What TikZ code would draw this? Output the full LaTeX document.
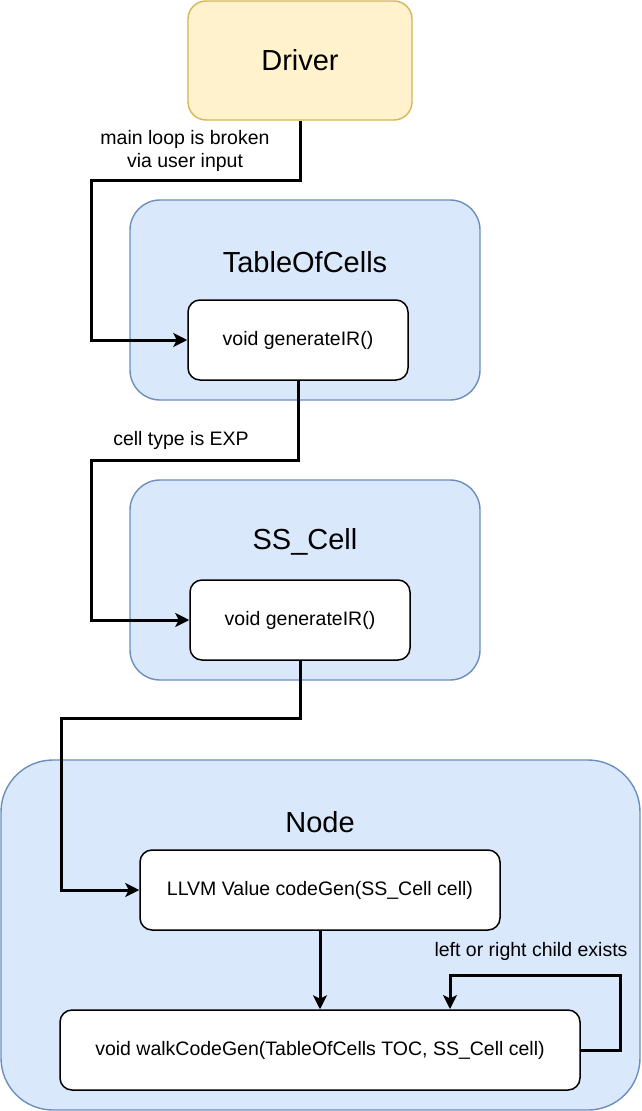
\documentclass[tikz,border=0pt]{standalone}
\usepackage{fontspec}
\setmainfont{Liberation Sans}
\usetikzlibrary{arrows.meta,calc}
\definecolor{yfill}{HTML}{FFF2CC}
\definecolor{ydraw}{HTML}{D6B656}
\definecolor{bfill}{HTML}{DAE8FC}
\definecolor{bdraw}{HTML}{6C8EBF}
\tikzset{
  drvbox/.style={draw=ydraw,fill=yfill,line width=1.4pt,rounded corners=18pt,minimum width=224pt,minimum height=119pt,inner sep=0pt},
  outerbox/.style={draw=bdraw,fill=bfill,line width=1.4pt,inner sep=0pt},
  innerbox/.style={draw=black,fill=white,line width=1.5pt,rounded corners=12pt,minimum height=80pt,inner sep=0pt},
  titletxt/.style={font=\fontsize{29}{34}\selectfont,inner sep=0pt},
  bodytxt/.style={font=\fontsize{19.5}{23}\selectfont},
  lbl/.style={font=\fontsize{19.5}{23}\selectfont,align=center,inner sep=0pt},
  conn/.style={draw=black,line width=3pt,-{Stealth[length=14pt,width=14pt,inset=3.5pt]}}
}
\begin{document}
\begin{tikzpicture}[x=1pt,y=-1pt]
\useasboundingbox (0,0) rectangle (642,1111);
% Driver
\node[drvbox,font=\fontsize{29}{34}\selectfont] (drv) at (300,60.5) {Driver};
% TableOfCells
\node[outerbox,rounded corners=30pt,minimum width=350pt,minimum height=200pt] (toc) at (305,300) {};
\node[titletxt] (toct) at (305,262) {TableOfCells};
\node[innerbox,bodytxt,minimum width=220pt] (toci) at (298,340) {void generateIR()};
% SS_Cell
\node[outerbox,rounded corners=30pt,minimum width=350pt,minimum height=200pt] (ssc) at (305,580) {};
\node[titletxt] (ssct) at (305,542) {SS\_Cell};
\node[innerbox,bodytxt,minimum width=220pt] (ssci) at (300,620) {void generateIR()};
% Node
\node[outerbox,rounded corners=52pt,minimum width=639pt,minimum height=350pt] (nd) at (320.5,935) {};
\node[titletxt] (ndt) at (320,822) {Node};
\node[innerbox,bodytxt,minimum width=360pt] (cg) at (320,890) {LLVM Value codeGen(SS\_Cell cell)};
\node[innerbox,bodytxt,minimum width=520pt] (wk) at (320,1050) {void walkCodeGen(TableOfCells TOC, SS\_Cell cell)};
% helper coordinates
\coordinate (k1) at (91,180);
\coordinate (k2) at (91,460);
\coordinate (k3) at (61,718);
\coordinate (k4) at (620,975);
\coordinate (k5) at (450,1009);
% connectors
\draw[conn] (drv.south) |- (k1) |- (toci.west);
\draw[conn] (toci.south) |- (k2) |- (ssci.west);
\draw[conn] (ssci.south) |- (k3) |- (cg.west);
\draw[conn] (cg.south) -- (cg.south |- wk.north);
\draw[conn] (wk.east) -| (k4) -| (k5);
% labels
\node[lbl] (l1) at (185,151) {main loop is broken\\via user input};
\node[lbl] (l2) at (181,440) {cell type is EXP};
\node[lbl] (l3) at (531,951) {left or right child exists};
\end{tikzpicture}
\end{document}
